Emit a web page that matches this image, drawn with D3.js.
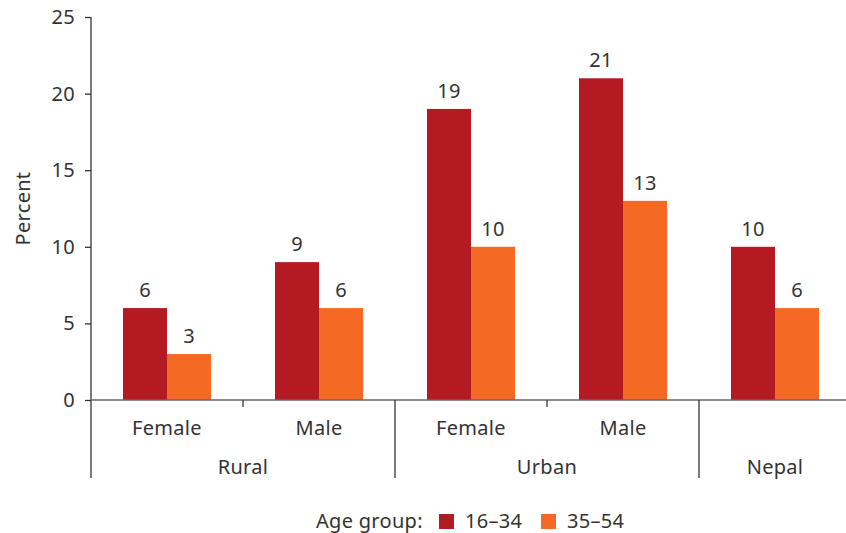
<!DOCTYPE html>
<html>
<head>
<meta charset="utf-8">
<script src="https://cdn.jsdelivr.net/npm/d3@7"></script>
<style>
  body { margin: 0; background: #fff; }
  text { font-family: "Noto Sans", "Open Sans", sans-serif; fill: #333; letter-spacing: 0.3px; }
</style>
</head>
<body>
<svg id="chart" width="846" height="533"></svg>
<script>
/* data */
var areas = ["Rural", "Rural", "Urban", "Urban", "Nepal"];
var sexes = ["Female", "Male", "Female", "Male", ""];
var ageGroups = ["16\u201334", "35\u201354"];
var young = [6, 9, 19, 21, 10];   // 16-34
var older = [3, 6, 10, 13, 6];    // 35-54
var yTicks = [0, 5, 10, 15, 20, 25];

var colour = { "16\u201334": "#b31a22", "35\u201354": "#f46a25" };

var width = 846, height = 533;
var plotLeft = 91, plotTop = 17, plotBottom = 400;
var fs = 20;

var svg = d3.select("#chart");

var keys = areas.map(function(d, i) { return i; });

/* scales */
var x0 = d3.scaleBand()
  .domain(keys)
  .range([plotLeft, plotLeft + 152 * keys.length])
  .paddingInner(64 / 152)
  .paddingOuter(32 / 152);

var x1 = d3.scaleBand()
  .domain(ageGroups)
  .range([0, x0.bandwidth()]);

var y = d3.scaleLinear().domain([0, 25]).range([plotBottom, plotTop]);

var step = x0.step();

/* y axis */
var yAxisG = svg.append("g")
  .attr("transform", "translate(" + plotLeft + ",0)")
  .call(d3.axisLeft(y).tickValues(yTicks).tickSize(6).tickPadding(10));
yAxisG.select(".domain").remove();
yAxisG.selectAll(".tick line").attr("stroke", "#333").attr("stroke-width", 1.3);
yAxisG.selectAll(".tick text")
  .style("font-family", "'Noto Sans', 'Open Sans', sans-serif")
  .style("font-size", fs + "px").attr("fill", "#333");

svg.append("line")
  .attr("x1", plotLeft).attr("x2", plotLeft)
  .attr("y1", y(25)).attr("y2", 478)
  .attr("stroke", "#333").attr("stroke-width", 1.3);

svg.append("text")
  .attr("transform", "translate(22," + ((plotTop + plotBottom) / 2) + ") rotate(-90)")
  .attr("text-anchor", "middle")
  .attr("dominant-baseline", "central")
  .style("font-size", fs + "px")
  .text("Percent");

/* bars */
var rows = keys.map(function(i) {
  return [
    { key: i, age: ageGroups[0], value: young[i] },
    { key: i, age: ageGroups[1], value: older[i] }
  ];
});

var groupsG = svg.selectAll(".grp")
  .data(rows)
  .enter().append("g")
  .attr("class", "grp")
  .attr("transform", function(d) { return "translate(" + x0(d[0].key) + ",0)"; });

groupsG.selectAll("rect")
  .data(function(d) { return d; })
  .enter().append("rect")
  .attr("x", function(d) { return x1(d.age); })
  .attr("y", function(d) { return y(d.value); })
  .attr("width", x1.bandwidth())
  .attr("height", function(d) { return y(0) - y(d.value); })
  .attr("fill", function(d) { return colour[d.age]; });

groupsG.selectAll(".lbl")
  .data(function(d) { return d; })
  .enter().append("text")
  .attr("class", "lbl")
  .attr("x", function(d) { return x1(d.age) + x1.bandwidth() / 2; })
  .attr("y", function(d) { return y(d.value) - 11; })
  .attr("text-anchor", "middle")
  .style("font-size", fs + "px")
  .text(function(d) { return d.value; });

/* x axis */
svg.append("line")
  .attr("x1", plotLeft).attr("x2", width)
  .attr("y1", y(0)).attr("y2", y(0))
  .attr("stroke", "#666").attr("stroke-width", 1.5);

// separators between categories
keys.forEach(function(i) {
  if (i === 0) return;
  var xs = plotLeft + step * i;
  var isLong = areas[i] !== areas[i - 1];
  svg.append("line")
    .attr("x1", xs).attr("x2", xs)
    .attr("y1", y(0)).attr("y2", isLong ? 478 : 407)
    .attr("stroke", "#333").attr("stroke-width", 1.3);
});

// sex labels
keys.forEach(function(i) {
  if (!sexes[i]) return;
  svg.append("text")
    .attr("x", x0(i) + x0.bandwidth() / 2)
    .attr("y", 435)
    .attr("text-anchor", "middle")
    .style("font-size", fs + "px")
    .text(sexes[i]);
});

// area labels centred over their run of categories
var areaNames = Array.from(new Set(areas));
areaNames.forEach(function(a) {
  var idx = keys.filter(function(i) { return areas[i] === a; });
  var xStart = plotLeft + step * idx[0];
  var xEnd = plotLeft + step * (idx[idx.length - 1] + 1);
  svg.append("text")
    .attr("x", (xStart + xEnd) / 2)
    .attr("y", 474)
    .attr("text-anchor", "middle")
    .style("font-size", fs + "px")
    .text(a);
});

/* legend */
var lg = svg.append("g");
lg.append("text")
  .attr("x", 316).attr("y", 528)
  .style("font-size", fs + "px")
  .text("Age group:");

var lx = [439, 541];
ageGroups.forEach(function(a, i) {
  lg.append("rect")
    .attr("x", lx[i]).attr("y", 514)
    .attr("width", 15).attr("height", 15)
    .attr("fill", colour[a]);
  lg.append("text")
    .attr("x", lx[i] + 26).attr("y", 528)
    .style("font-size", fs + "px")
    .text(a);
});
</script>
</body>
</html>
